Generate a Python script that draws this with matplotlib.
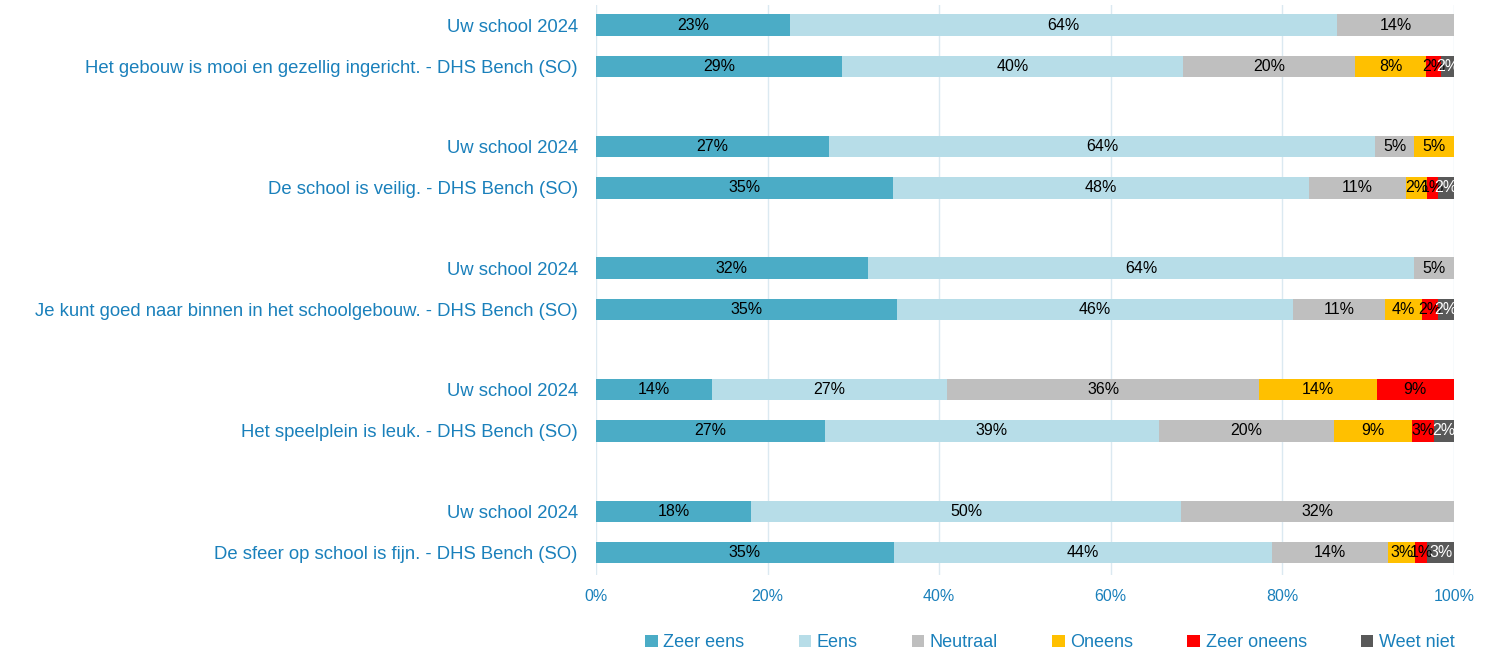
import matplotlib.pyplot as plt
import numpy as np

# stellingen, per stelling twee rijen: Uw school 2024 en DHS Bench (SO)
labels = [
    'Uw school 2024',
    'Het gebouw is mooi en gezellig ingericht. - DHS Bench (SO)',
    'Uw school 2024',
    'De school is veilig. - DHS Bench (SO)',
    'Uw school 2024',
    'Je kunt goed naar binnen in het schoolgebouw. - DHS Bench (SO)',
    'Uw school 2024',
    'Het speelplein is leuk. - DHS Bench (SO)',
    'Uw school 2024',
    'De sfeer op school is fijn. - DHS Bench (SO)',
]

categories = ['Zeer eens', 'Eens', 'Neutraal', 'Oneens', 'Zeer oneens', 'Weet niet']
colors = ['#4bacc6', '#b7dde8', '#bfbfbf', '#ffc000', '#ff0000', '#595959']

zeer_eens   = [22.6, 28.7, 27.2, 34.6, 31.7, 35.1, 13.5, 26.7, 18.1, 34.7]
eens        = [63.8, 39.7, 63.6, 48.5, 63.7, 46.1, 27.4, 38.9, 50.1, 44.1]
neutraal    = [13.6, 20.1, 4.6, 11.3, 4.6, 10.8, 36.4, 20.4, 31.8, 13.5]
oneens      = [0, 8.2, 4.6, 2.5, 0, 4.3, 13.7, 9.1, 0, 3.2]
zeer_oneens = [0, 1.8, 0, 1.2, 0, 1.8, 9.0, 2.6, 0, 1.4]
weet_niet   = [0, 1.5, 0, 1.9, 0, 1.9, 0, 2.3, 0, 3.1]

series = [zeer_eens, eens, neutraal, oneens, zeer_oneens, weet_niet]
text_colors = ['black', 'black', 'black', 'black', 'black', 'white']
label_blue = '#1a80bb'

plt.rcParams['font.family'] = ['Liberation Sans', 'DejaVu Sans']

fig = plt.figure(figsize=(14.85, 6.52), dpi=100)
ax = fig.add_axes([0.4013, 0.118, 0.5778, 0.875])

# y positie: paren dicht bij elkaar, groepen verder uit elkaar
n = len(labels)
ypos = np.array([(i // 2) * 2.95 + (i % 2) for i in range(n)])

left = np.zeros(n)
for vals, col, tcol, name in zip(series, colors, text_colors, categories):
    vals = np.array(vals)
    ax.barh(ypos, vals, left=left, height=0.52, color=col, label=name, zorder=2)
    for y, l, v in zip(ypos, left, vals):
        if v > 0:
            ax.text(l + v / 2, y, f'{round(v):.0f}%', ha='center', va='center',
                    fontsize=11.5, color=tcol, zorder=3)
    left += vals

ax.set_yticks(ypos)
ax.set_yticklabels(labels, color=label_blue, fontsize=13.3)
ax.set_ylim(ypos[-1] + 0.55, ypos[0] - 0.5)
ax.set_xlim(0, 100)
ax.set_xticks(np.arange(0, 101, 20))
ax.set_xticklabels([f'{x}%' for x in range(0, 101, 20)], color=label_blue, fontsize=11.5)
ax.tick_params(axis='both', length=0)
ax.tick_params(axis='y', pad=13)
ax.tick_params(axis='x', pad=10)
ax.xaxis.grid(True, color='#dbe9f1', linewidth=1, zorder=0)
for s in ax.spines.values():
    s.set_visible(False)

leg = fig.legend(loc='lower center', bbox_to_anchor=(0.707, -0.024), ncol=6, frameon=False,
                 fontsize=13, handlelength=0.7, handleheight=0.7, columnspacing=3.0,
                 handletextpad=0.3)
for t in leg.get_texts():
    t.set_color(label_blue)

fig.savefig('out.png', dpi=100)
